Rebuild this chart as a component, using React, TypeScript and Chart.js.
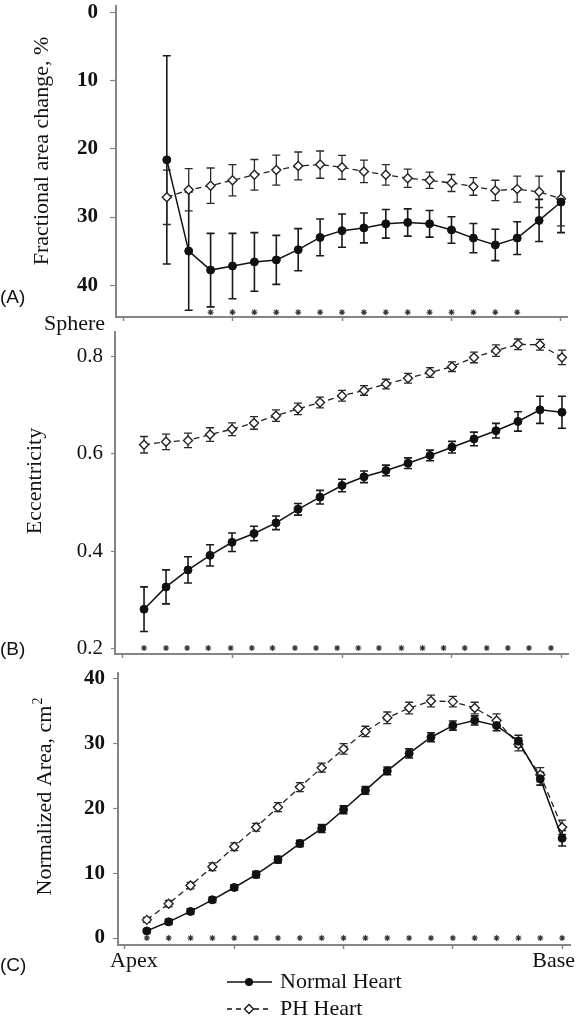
import { useEffect, useRef } from "react";
import { Chart, registerables } from "chart.js";

Chart.register(...registerables);

// ---------- Data ----------
const positionsA = [0.1, 0.15, 0.2, 0.25, 0.3, 0.35, 0.4, 0.45, 0.5, 0.55, 0.6, 0.65, 0.7, 0.75, 0.8, 0.85, 0.9, 0.95, 1.0];
const normalFacA = [21.6, 35.0, 37.8, 37.2, 36.6, 36.3, 34.8, 33.0, 32.0, 31.6, 31.0, 30.8, 31.0, 31.9, 33.1, 34.1, 33.1, 30.5, 27.8];
const normalFacErrA = [15.3, 8.7, 5.4, 4.8, 4.3, 3.6, 3.1, 2.7, 2.45, 2.2, 2.1, 2.0, 1.95, 1.95, 2.15, 2.3, 2.4, 3.1, 4.5];
const phFacA = [27.1, 26.0, 25.4, 24.6, 23.8, 23.1, 22.5, 22.3, 22.7, 23.3, 23.8, 24.3, 24.6, 25.0, 25.5, 26.1, 25.9, 26.3, 27.3];
const phFacErrA = [4.0, 3.1, 2.6, 2.3, 2.25, 2.2, 2.05, 2.0, 1.75, 1.65, 1.5, 1.35, 1.2, 1.25, 1.3, 1.5, 1.9, 2.3, 4.0];
const starsA = [0.2, 0.25, 0.3, 0.35, 0.4, 0.45, 0.5, 0.55, 0.6, 0.65, 0.7, 0.75, 0.8, 0.85, 0.9];
const yTicksA = [0, 10, 20, 30, 40];

const positionsB = [0.05, 0.1, 0.15, 0.2, 0.25, 0.3, 0.35, 0.4, 0.45, 0.5, 0.55, 0.6, 0.65, 0.7, 0.75, 0.8, 0.85, 0.9, 0.95, 1.0];
const normalEccB = [0.28, 0.326, 0.361, 0.391, 0.418, 0.436, 0.458, 0.486, 0.511, 0.535, 0.553, 0.566, 0.581, 0.597, 0.614, 0.631, 0.648, 0.667, 0.691, 0.686];
const normalEccErrB = [0.046, 0.035, 0.027, 0.022, 0.019, 0.015, 0.014, 0.012, 0.014, 0.013, 0.012, 0.011, 0.011, 0.011, 0.012, 0.014, 0.015, 0.02, 0.028, 0.033];
const phEccB = [0.619, 0.625, 0.628, 0.64, 0.651, 0.664, 0.679, 0.693, 0.706, 0.72, 0.731, 0.744, 0.756, 0.768, 0.78, 0.799, 0.813, 0.826, 0.825, 0.799];
const phEccErrB = [0.017, 0.016, 0.015, 0.014, 0.013, 0.013, 0.012, 0.012, 0.011, 0.011, 0.01, 0.01, 0.01, 0.01, 0.01, 0.011, 0.012, 0.011, 0.011, 0.015];
const starsB = [0.05, 0.1, 0.148, 0.196, 0.247, 0.295, 0.342, 0.393, 0.441, 0.489, 0.537, 0.584, 0.635, 0.683, 0.731, 0.779, 0.829, 0.877, 0.925, 0.975];
const yTicksB = [0.2, 0.4, 0.6, 0.8];

const positionsC = [0.05, 0.1, 0.15, 0.2, 0.25, 0.3, 0.35, 0.4, 0.45, 0.5, 0.55, 0.6, 0.65, 0.7, 0.75, 0.8, 0.85, 0.9, 0.95, 1.0];
const normalAreaC = [1.1, 2.5, 4.1, 5.9, 7.8, 9.8, 12.1, 14.6, 16.9, 19.8, 22.8, 25.8, 28.5, 31.0, 32.8, 33.6, 32.8, 30.4, 24.6, 15.4];
const normalAreaErrC = [0.3, 0.4, 0.4, 0.4, 0.4, 0.5, 0.5, 0.5, 0.6, 0.6, 0.6, 0.6, 0.7, 0.7, 0.7, 0.7, 0.8, 0.9, 1.0, 1.2];
const phAreaC = [2.8, 5.3, 8.1, 11.0, 14.1, 17.1, 20.2, 23.3, 26.3, 29.2, 31.9, 34.0, 35.5, 36.6, 36.5, 35.5, 33.6, 29.9, 25.2, 17.1];
const phAreaErrC = [0.4, 0.5, 0.5, 0.6, 0.6, 0.6, 0.7, 0.7, 0.7, 0.8, 0.8, 0.9, 0.9, 0.9, 0.8, 0.9, 1.0, 1.0, 1.1, 1.1];
const starsC = [0.05, 0.1, 0.15, 0.2, 0.25, 0.3, 0.35, 0.4, 0.45, 0.5, 0.55, 0.6, 0.65, 0.7, 0.75, 0.8, 0.85, 0.9, 0.95, 1.0];
const yTicksC = [0, 10, 20, 30, 40];

const xTicks = [0, 0.25, 0.5, 0.75, 1];
const seriesNames = ["Normal Heart", "PH Heart"];

// ---------- Styling ----------
const W = 576;
const H = 1022;
const INK = "#111";
const AXIS = "#858585";
const SERIF = "'Liberation Serif', 'Times New Roman', serif";
const SANS = "'Liberation Sans', Arial, sans-serif";

type TextItem = {
  text: string;
  x: number;
  y: number;
  font: string;
  align?: CanvasTextAlign;
  rotate?: boolean;
  sup?: string;
  supFont?: string;
};

const errorBarPlugin = {
  id: "errorBars",
  beforeDatasetsDraw(chart: any) {
    const ctx = chart.ctx;
    const xs = chart.scales.x;
    const ys = chart.scales.y;
    chart.data.datasets.forEach((ds: any) => {
      if (!ds.errors) return;
      ctx.save();
      ctx.strokeStyle = ds.errColor || INK;
      ctx.lineWidth = ds.errWidth || 1.5;
      ctx.setLineDash([]);
      ds.data.forEach((p: any, j: number) => {
        const e = ds.errors[j];
        const px = xs.getPixelForValue(p.x);
        const y1 = ys.getPixelForValue(p.y - e);
        const y2 = ys.getPixelForValue(p.y + e);
        ctx.beginPath();
        ctx.moveTo(px, y1);
        ctx.lineTo(px, y2);
        ctx.moveTo(px - 4, y1);
        ctx.lineTo(px + 4, y1);
        ctx.moveTo(px - 4, y2);
        ctx.lineTo(px + 4, y2);
        ctx.stroke();
      });
      ctx.restore();
    });
  },
};

function textPlugin(items: TextItem[], legend?: boolean) {
  return {
    id: "texts",
    afterDraw(chart: any) {
      const ctx = chart.ctx;
      ctx.save();
      ctx.fillStyle = INK;
      items.forEach((it) => {
        ctx.save();
        ctx.font = it.font;
        ctx.textBaseline = "middle";
        if (it.rotate) {
          ctx.translate(it.x, it.y);
          ctx.rotate(-Math.PI / 2);
          const w1 = ctx.measureText(it.text).width;
          let w2 = 0;
          if (it.sup) {
            ctx.font = it.supFont || it.font;
            w2 = ctx.measureText(it.sup).width;
            ctx.font = it.font;
          }
          const start = -(w1 + w2) / 2;
          ctx.textAlign = "left";
          ctx.fillText(it.text, start, 0);
          if (it.sup) {
            ctx.font = it.supFont || it.font;
            ctx.fillText(it.sup, start + w1 + 1, -7);
          }
        } else {
          ctx.textAlign = it.align || "left";
          ctx.fillText(it.text, it.x, it.y);
        }
        ctx.restore();
      });
      if (legend) {
        const lx1 = 227, lx2 = 272, mx = 249;
        const y1 = 982, y2 = 1009;
        ctx.strokeStyle = INK;
        ctx.lineWidth = 1.5;
        ctx.setLineDash([]);
        ctx.beginPath();
        ctx.moveTo(lx1, y1);
        ctx.lineTo(lx2, y1);
        ctx.stroke();
        ctx.beginPath();
        ctx.arc(mx, y1, 4, 0, Math.PI * 2);
        ctx.fill();
        ctx.lineWidth = 1.3;
        ctx.setLineDash([5, 4]);
        ctx.beginPath();
        ctx.moveTo(lx1, y2);
        ctx.lineTo(lx2, y2);
        ctx.stroke();
        ctx.setLineDash([]);
        ctx.beginPath();
        ctx.moveTo(mx - 4.5, y2);
        ctx.lineTo(mx, y2 - 4.5);
        ctx.lineTo(mx + 4.5, y2);
        ctx.lineTo(mx, y2 + 4.5);
        ctx.closePath();
        ctx.fillStyle = "#fff";
        ctx.fill();
        ctx.stroke();
        ctx.fillStyle = INK;
        ctx.font = `22px ${SERIF}`;
        ctx.textAlign = "left";
        ctx.textBaseline = "middle";
        ctx.fillText(seriesNames[0], 280, y1);
        ctx.fillText(seriesNames[1], 280, y2);
      }
      ctx.restore();
    },
  };
}

type PanelSpec = {
  area: { left: number; top: number; right: number; bottom: number };
  xMin: number;
  xMax: number;
  yMin: number;
  yMax: number;
  reverse: boolean;
  yTicks: number[];
  yFormat: (v: number) => string;
  yFont: any;
  tickLen: number;
  tickPad: number;
  xs: number[];
  normal: number[];
  normalErr: number[];
  ph: number[];
  phErr: number[];
  stars: number[];
  starY: number;
  texts: TextItem[];
  legend?: boolean;
};

function zeroPad(s: any) {
  s.paddingTop = 0;
  s.paddingBottom = 0;
  s.paddingLeft = 0;
  s.paddingRight = 0;
}

function buildConfig(p: PanelSpec): any {
  const X_AXIS_H = 8;
  return {
    type: "scatter",
    data: {
      datasets: [
        {
          label: seriesNames[0],
          data: p.xs.map((x, i) => ({ x, y: p.normal[i] })),
          errors: p.normalErr,
          errColor: "#1a1a1a",
          errWidth: 1.6,
          showLine: true,
          borderColor: INK,
          borderWidth: 1.5,
          pointStyle: "circle",
          pointRadius: 4,
          pointBackgroundColor: INK,
          pointBorderColor: INK,
          pointBorderWidth: 1,
          tension: 0,
          order: 1,
        },
        {
          label: seriesNames[1],
          data: p.xs.map((x, i) => ({ x, y: p.ph[i] })),
          errors: p.phErr,
          errColor: "#2a2a2a",
          errWidth: 1.3,
          showLine: true,
          borderColor: "#222",
          borderWidth: 1.3,
          borderDash: [6, 4],
          pointStyle: "rectRot",
          pointRadius: 4.5,
          pointBackgroundColor: "#fff",
          pointBorderColor: "#222",
          pointBorderWidth: 1.4,
          tension: 0,
          order: 2,
        },
        {
          label: "sig",
          data: p.stars.map((x) => ({ x, y: p.starY })),
          showLine: false,
          pointStyle: "star",
          pointRadius: 3,
          pointBorderColor: "#333",
          pointBorderWidth: 1.1,
          pointBackgroundColor: "#333",
          order: 3,
        },
      ],
    },
    options: {
      responsive: false,
      animation: false,
      events: [],
      layout: {
        padding: {
          left: 0,
          top: p.area.top,
          right: W - p.area.right,
          bottom: H - p.area.bottom - X_AXIS_H,
        },
      },
      plugins: {
        legend: { display: false },
        tooltip: { enabled: false },
      },
      scales: {
        x: {
          type: "linear",
          min: p.xMin,
          max: p.xMax,
          afterBuildTicks: (s: any) => {
            s.ticks = xTicks.map((v) => ({ value: v }));
          },
          afterFit: (s: any) => {
            s.height = X_AXIS_H;
            zeroPad(s);
          },
          ticks: { callback: () => "", padding: 0 },
          grid: {
            display: true,
            drawOnChartArea: false,
            drawTicks: true,
            tickLength: 4,
            tickColor: AXIS,
            tickWidth: 1.5,
          },
          border: { display: true, color: AXIS, width: 2 },
        },
        y: {
          type: "linear",
          min: p.yMin,
          max: p.yMax,
          reverse: p.reverse,
          afterBuildTicks: (s: any) => {
            s.ticks = p.yTicks.map((v) => ({ value: v }));
          },
          afterFit: (s: any) => {
            s.width = p.area.left;
            zeroPad(s);
          },
          ticks: {
            font: p.yFont,
            color: INK,
            padding: p.tickPad,
            callback: (v: any) => p.yFormat(Number(v)),
          },
          grid: {
            display: true,
            drawOnChartArea: false,
            drawTicks: true,
            tickLength: p.tickLen,
            tickColor: AXIS,
            tickWidth: 1.2,
          },
          border: { display: true, color: AXIS, width: 2 },
        },
      },
    },
    plugins: [errorBarPlugin, textPlugin(p.texts, p.legend)],
  };
}

const panelA: PanelSpec = {
  area: { left: 116, top: 3, right: 567, bottom: 317 },
  xMin: -0.016,
  xMax: 1.0137,
  yMin: -1.02,
  yMax: 44.69,
  reverse: true,
  yTicks: yTicksA,
  yFormat: (v) => String(v),
  yFont: { family: SERIF, size: 21, weight: "bold" },
  tickLen: 6,
  tickPad: 12,
  xs: positionsA,
  normal: normalFacA,
  normalErr: normalFacErrA,
  ph: phFacA,
  phErr: phFacErrA,
  stars: starsA,
  starY: 44.0,
  texts: [
    { text: "Fractional area change, %", x: 42, y: 151, font: `22px ${SERIF}`, rotate: true },
    { text: "(A)", x: 0, y: 298, font: `19px ${SANS}` },
    { text: "Sphere", x: 44, y: 324, font: `22px ${SERIF}` },
  ],
};

const panelB: PanelSpec = {
  area: { left: 115, top: 332, right: 568, bottom: 654 },
  xMin: -0.016,
  xMax: 1.0137,
  yMin: 0.1877,
  yMax: 0.8514,
  reverse: false,
  yTicks: yTicksB,
  yFormat: (v) => v.toFixed(1),
  yFont: { family: SERIF, size: 21 },
  tickLen: 4,
  tickPad: 8,
  xs: positionsB,
  normal: normalEccB,
  normalErr: normalEccErrB,
  ph: phEccB,
  phErr: phEccErrB,
  stars: starsB,
  starY: 0.2,
  texts: [
    { text: "Eccentricity", x: 35, y: 481, font: `22px ${SERIF}`, rotate: true },
    { text: "(B)", x: 0, y: 650, font: `19px ${SANS}` },
  ],
};

const panelC: PanelSpec = {
  area: { left: 118, top: 673, right: 573, bottom: 945 },
  xMin: -0.0159,
  xMax: 1.0182,
  yMin: -1.08,
  yMax: 40.92,
  reverse: false,
  yTicks: yTicksC,
  yFormat: (v) => String(v),
  yFont: { family: SERIF, size: 21, weight: "bold" },
  tickLen: 5,
  tickPad: 8,
  xs: positionsC,
  normal: normalAreaC,
  normalErr: normalAreaErrC,
  ph: phAreaC,
  phErr: phAreaErrC,
  stars: starsC,
  starY: 0,
  texts: [
    {
      text: "Normalized Area, cm",
      x: 45,
      y: 797,
      font: `22px ${SERIF}`,
      rotate: true,
      sup: "2",
      supFont: `14px ${SERIF}`,
    },
    { text: "(C)", x: 0, y: 966, font: `19px ${SANS}` },
    { text: "Apex", x: 110, y: 961, font: `22px ${SERIF}` },
    { text: "Base", x: 575, y: 961, font: `22px ${SERIF}`, align: "right" },
  ],
  legend: true,
};

function Panel({ spec }: { spec: PanelSpec }) {
  const ref = useRef<HTMLCanvasElement>(null);
  useEffect(() => {
    if (!ref.current) return;
    const chart = new Chart(ref.current, buildConfig(spec));
    return () => chart.destroy();
  }, [spec]);
  return (
    <canvas
      ref={ref}
      width={W}
      height={H}
      style={{ position: "absolute", left: 0, top: 0, width: W, height: H }}
    />
  );
}

export default function App() {
  return (
    <div
      style={{
        position: "absolute",
        left: 0,
        top: 0,
        width: W,
        height: H,
        background: "#fff",
        overflow: "hidden",
      }}
    >
      <Panel spec={panelA} />
      <Panel spec={panelB} />
      <Panel spec={panelC} />
    </div>
  );
}
